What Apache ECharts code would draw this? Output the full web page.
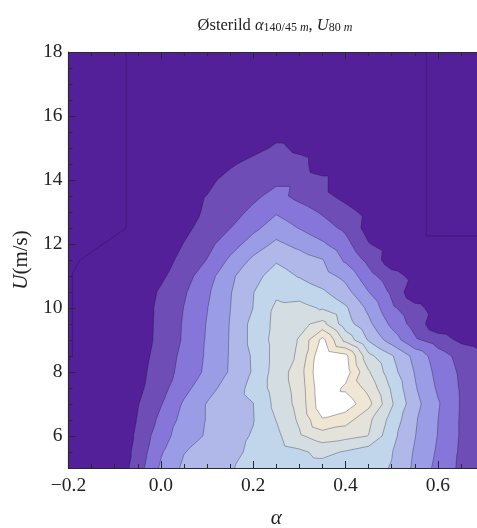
<!DOCTYPE html>
<html><head><meta charset="utf-8">
<script src="https://cdn.jsdelivr.net/npm/echarts@6/dist/echarts.min.js"></script>
<style>html,body{margin:0;padding:0;background:#fff}#c{width:477px;height:528px}</style>
</head><body><div id="c"></div>
<script>
// shear exponent alpha (grid columns)
const alphaGrid = [-0.2,-0.15,-0.1,-0.05,0,0.05,0.1,0.15,0.2,0.25,0.3,0.35,0.4,0.45,0.5,0.55,0.6,0.65,0.7];
// wind speed U at 80 m (grid rows)
const speedGrid = [5,5.5,6,6.5,7,7.5,8,8.5,9,9.5,10,10.5,11,11.5,12,12.5,13,13.5,14,14.5,15,15.5,16,16.5,17,17.5,18];
// estimated joint density level (in contour-level units), one row per wind speed
const density = [
  [0.1,0.1,0.1,1.55,3.15,4.2,4.5,4.95,5.2,5.4,5.5,5.55,5.45,5.3,4.95,3.8,2.7,1.8,1.35],      // 5.0
  [0.1,0.1,0.1,1.36,2.89,3.96,4.4,4.8,5.15,5.5,5.8,6.3,5.9,5.45,5.05,3.9,2.86,1.85,1.4],      // 5.5
  [0.1,0.1,0.1,1.2,2.61,3.49,4.11,4.59,5.09,5.75,6.85,7.5,7.3,6.98,5.31,4.04,2.97,1.9,1.45],  // 6.0
  [0.1,0.1,0.1,1.06,2.25,3.34,4.05,4.5,4.95,6.02,7.16,8.9,8.4,7.23,5.63,4.13,3.01,1.9,1.45],  // 6.5
  [0.1,0.1,0.1,0.95,1.93,3.13,4.05,4.52,4.98,6.29,7.32,9.7,9.6,8.3,6.12,4.35,3.1,1.93,1.5],   // 7.0
  [0.1,0.1,0.1,0.75,1.65,2.68,3.64,4.43,5.31,6.43,7.38,9.8,8.8,7.69,5.85,4.11,2.86,1.9,1.45], // 7.5
  [0.1,0.1,0.1,0.67,1.5,2.34,3.2,4.09,5.1,6.43,7.51,10,9.5,7.1,5.39,3.95,2.69,1.84,1.35],     // 8.0
  [0.04,0.1,0.1,0.56,1.4,2.25,3.13,4.07,5.13,6.36,7.17,9.9,9.3,6.28,5.1,3.7,2.48,1.67,1.14],  // 8.5
  [0.04,0.1,0.1,0.47,1.28,2.11,3.1,4.06,5.31,6.35,7.07,9.3,6.7,4.9,3.55,2.18,1.5,0.8,0.5],    // 9.0
  [0.04,0.1,0.1,0.46,1.26,2.09,3.05,4.04,5.31,6.25,6.75,7.3,5.46,4.24,2.78,1.6,0.3,0.1,0.1],  // 9.5
  [0.04,0.1,0.1,0.47,1.23,2.02,2.96,3.98,5.01,6.2,6.3,5.9,5.15,3.77,2.2,1.3,0.6,0.1,0.1],     // 10.0
  [0.04,0.1,0.1,0.38,1.13,1.87,2.82,3.93,4.97,5.8,5.6,5.15,4.35,3.02,1.8,0.3,0.1,0.1,0.1],    // 10.5
  [0.04,0.1,0.1,0.1,0.81,1.6,2.54,3.79,4.69,5.4,4.93,4.41,3.72,2.36,1.37,0.71,0.1,0.1,0.1],   // 11.0
  [0,0.1,0.1,0.1,0.58,1.29,2.03,3.18,4.2,4.9,4.47,4.05,2.84,1.72,0.42,0.1,0.1,0.1,0.1],       // 11.5
  [0,0,0.1,0.1,0.4,1.03,1.71,2.53,3.44,4.2,3.71,3.14,2.32,1.05,0.5,0.1,0.1,0.1,0.1],          // 12.0
  [0,0,0,0.1,0.1,0.77,1.37,1.98,2.75,3.5,2.96,2.38,1.8,0.6,0.1,0.1,0,0,0],                    // 12.5
  [0,0,0,0.1,0.1,0.65,1.13,1.63,2.2,2.9,2.4,1.89,1.33,0.7,0.1,0.1,0,0,0],                     // 13.0
  [0,0,0,0.1,0.1,0.1,1.05,1.41,1.8,2.3,1.73,1.29,0.7,0.1,0.1,0.1,0,0,0],                      // 13.5
  [0,0,0,0.1,0.1,0.1,0.3,1.9,1.9,1.8,1.8,1.3,0.1,0.1,0.1,0.1,0,0,0],                          // 14.0
  [0,0,0,0.1,0.1,0.1,0.1,0.6,1.9,1.95,1.6,0.1,0.1,0.1,0.1,0.1,0,0,0],                         // 14.5
  [0,0,0,0.1,0.1,0.1,0.1,0.1,0.1,1.4,0.6,0.1,0.1,0.1,0.1,0.1,0,0,0],                          // 15.0
  [0,0,0,0.1,0.1,0.1,0.1,0.1,0.1,0.1,0.1,0.1,0.1,0.1,0.1,0.1,0,0,0],                          // 15.5
  [0,0,0,0.1,0.1,0.1,0.1,0.1,0.1,0.1,0.1,0.1,0.1,0.1,0.1,0.1,0,0,0],                          // 16.0
  [0,0,0,0.1,0.1,0.1,0.1,0.1,0.1,0.1,0.1,0.1,0.1,0.1,0.1,0.1,0,0,0],                          // 16.5
  [0,0,0,0.1,0.1,0.1,0.1,0.1,0.1,0.1,0.1,0.1,0.1,0.1,0.1,0.1,0,0,0],                          // 17.0
  [0,0,0,0.1,0.1,0.1,0.1,0.1,0.1,0.1,0.1,0.1,0.1,0.1,0.1,0.1,0,0,0],                          // 17.5
  [0,0,0,0.1,0.1,0.1,0.1,0.1,0.1,0.1,0.1,0.1,0.1,0.1,0.1,0.1,0,0,0]                           // 18.0
];
// contour thresholds and the fill used above each one
const contourLevels = [0.05,1,2,3,4,5,6,7,8,9];
const levelColors = [null,'#6e4db7','#8676da','#9b9ce6','#afb8e8','#c1d6ea','#d4dee2','#e3e3dc','#efe6d3','#ffffff'];
const baseColor = '#54209a';
// tick labels
const xTickValues = [-0.2,0,0.2,0.4,0.6];
const xTickLabels = ['\u22120.2','0.0','0.2','0.4','0.6'];
const yTickValues = [6,8,10,12,14,16,18];
const yTickLabels = ['6','8','10','12','14','16','18'];

function clipTri(tri, t) {
  const out = [];
  for (let i = 0; i < 3; i++) {
    const a = tri[i], b = tri[(i + 1) % 3];
    const ain = a[2] >= t, bin = b[2] >= t;
    if (ain) out.push(a);
    if (ain !== bin) {
      const f = (t - a[2]) / (b[2] - a[2]);
      out.push([a[0] + f * (b[0] - a[0]), a[1] + f * (b[1] - a[1]), t]);
    }
  }
  return out;
}
function segTri(tri, t) {
  const pts = [];
  for (let i = 0; i < 3; i++) {
    const a = tri[i], b = tri[(i + 1) % 3];
    if ((a[2] >= t) !== (b[2] >= t)) {
      const f = (t - a[2]) / (b[2] - a[2]);
      pts.push([a[0] + f * (b[0] - a[0]), a[1] + f * (b[1] - a[1])]);
    }
  }
  return pts.length === 2 ? pts : null;
}
const fx = v => v.toFixed(2);

const serif = 'Liberation Serif';
const chart = echarts.init(document.getElementById('c'), null, {renderer: 'canvas'});
const axisLineStyle = {color: '#2a2a2a', width: 1.2};
function xAxisCfg(pos, interval, len, major) {
  return {
    type: 'value', position: pos, min: -0.2, max: 0.7, interval: interval, z: 10,
    axisLine: {show: major, onZero: false, lineStyle: axisLineStyle},
    axisTick: {show: true, inside: true, length: len, lineStyle: {color: '#2a2a2a', width: 1}},
    axisLabel: {show: false}, splitLine: {show: false}
  };
}
function yAxisCfg(interval, len, major) {
  return {
    type: 'value', position: 'left', min: 5, max: 18, interval: interval, z: 10,
    axisLine: {show: major, onZero: false, lineStyle: axisLineStyle},
    axisTick: {show: true, inside: true, length: len, lineStyle: {color: '#2a2a2a', width: 1}},
    axisLabel: {show: false}, splitLine: {show: false}
  };
}
const xMain = xAxisCfg('bottom', 0.2, 7, true);
xMain.axisLabel = {
  show: true, margin: 8, showMaxLabel: false, color: '#222', fontFamily: serif, fontSize: 19.5,
  formatter: v => { const i = xTickValues.findIndex(t => Math.abs(t - v) < 1e-6); return i >= 0 ? xTickLabels[i] : ''; }
};
xMain.name = 'α';
xMain.nameLocation = 'middle';
xMain.nameGap = 40;
xMain.nameTextStyle = {fontFamily: serif, fontStyle: 'italic', fontSize: 21, color: '#222'};

const yMain = yAxisCfg(1, 7, true);
yMain.axisTick.customValues = yTickValues;
yMain.axisLabel = {
  show: true, margin: 6, color: '#222', fontFamily: serif, fontSize: 19.5, customValues: yTickValues,
  formatter: v => { const i = yTickValues.findIndex(t => Math.abs(t - v) < 1e-6); return i >= 0 ? yTickLabels[i] : ''; }
};
yMain.name = '{i|U}{n|(m/s)}';
yMain.nameLocation = 'middle';
yMain.nameGap = 35;
yMain.nameRotate = 90;
yMain.nameTextStyle = {
  rich: {
    i: {fontFamily: serif, fontStyle: 'italic', fontSize: 21, color: '#222'},
    n: {fontFamily: serif, fontSize: 21, color: '#222'}
  }
};

chart.setOption({
  animation: false,
  backgroundColor: '#ffffff',
  grid: {left: 68.5, top: 52, width: 415.5, height: 416, containLabel: false, outerBoundsMode: 'none'},
  xAxis: [xMain, xAxisCfg('bottom', 0.05, 4, false), xAxisCfg('top', 0.2, 7, true), xAxisCfg('top', 0.05, 4, false)],
  yAxis: [yMain, yAxisCfg(0.5, 4, false)],
  graphic: [{
    type: 'text', x: 275, y: 24, silent: true,
    style: {
      text: '{n|Østerild }{i|α}{s|140/45 }{si|m}{n|, }{i|U}{s|80 }{si|m}',
      align: 'center', verticalAlign: 'middle',
      rich: {
        n: {fontFamily: serif, fontSize: 16.5, fill: '#222', lineHeight: 20, verticalAlign: 'bottom'},
        i: {fontFamily: serif, fontStyle: 'italic', fontSize: 16.5, fill: '#222', lineHeight: 20, verticalAlign: 'bottom'},
        s: {fontFamily: serif, fontSize: 12, fill: '#222', lineHeight: 8, verticalAlign: 'bottom'},
        si: {fontFamily: serif, fontStyle: 'italic', fontSize: 12, fill: '#222', lineHeight: 8, verticalAlign: 'bottom'}
      }
    }
  }],
  series: [{
    type: 'custom', silent: true, clip: true, z: 2,
    xAxisIndex: 0, yAxisIndex: 0,
    data: [[0.25, 11.5]],
    encode: {x: 0, y: 1},
    renderItem: function (params, api) {
      const nR = speedGrid.length, nC = alphaGrid.length;
      const P = [];
      for (let j = 0; j < nR; j++) {
        const row = [];
        for (let i = 0; i < nC; i++) {
          const c = api.coord([alphaGrid[i], speedGrid[j]]);
          row.push([c[0], c[1], density[j][i]]);
        }
        P.push(row);
      }
      const fills = contourLevels.map(() => []);
      const lines = [];
      for (let j = 0; j < nR - 1; j++) {
        for (let i = 0; i < nC - 1; i++) {
          const a = P[j][i], b = P[j][i + 1], c = P[j + 1][i + 1], d = P[j + 1][i];
          const tris = [[a, b, c], [a, c, d]];
          for (const tri of tris) {
            for (let k = 0; k < contourLevels.length; k++) {
              const t = contourLevels[k];
              if (levelColors[k]) {
                const poly = clipTri(tri, t);
                if (poly.length >= 3) fills[k].push('M' + poly.map(p => fx(p[0]) + ' ' + fx(p[1])).join('L') + 'Z');
              }
              const s = segTri(tri, t);
              if (s) lines.push('M' + fx(s[0][0]) + ' ' + fx(s[0][1]) + 'L' + fx(s[1][0]) + ' ' + fx(s[1][1]));
            }
          }
        }
      }
      const tl = api.coord([alphaGrid[0], speedGrid[nR - 1]]);
      const br = api.coord([alphaGrid[nC - 1], speedGrid[0]]);
      const children = [{type: 'rect', shape: {x: tl[0], y: tl[1], width: br[0] - tl[0], height: br[1] - tl[1]}, style: {fill: baseColor}}];
      for (let k = 0; k < contourLevels.length; k++) {
        if (levelColors[k] && fills[k].length) children.push({type: 'path', shape: {pathData: fills[k].join('')}, style: {fill: levelColors[k], stroke: null}});
      }
      children.push({type: 'path', shape: {pathData: lines.join('')}, style: {fill: 'none', stroke: 'rgba(20,10,40,0.32)', lineWidth: 1}});
      return {type: 'group', children: children};
    }
  }]
});
</script></body></html>
